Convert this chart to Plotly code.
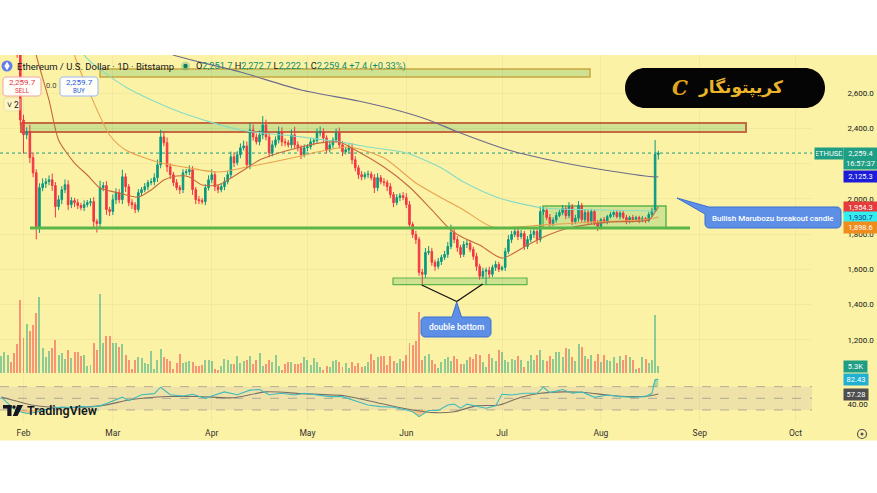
import pandas as pd
import plotly.graph_objects as go

W, H = 877, 493
FONT = "Roboto, Open Sans, sans-serif"

# ---------------- DATA ----------------
start_date = "2023-01-25"
first_open = 2960
closes = [
    2990, 3025, 3050, 2995, 2950, 2830,
    2447, 2363, 2380, 2233, 2148, 1837, 2063, 2086, 2097, 2108, 2075, 1956, 1995, 2052, 2080, 1967, 1990, 1978, 1962, 1950,
    1967, 1978, 1984, 1871, 1860, 2063, 2075, 1939, 1928, 1995, 2035, 1995, 2125, 2069, 1978, 1967, 1939, 2035, 2052, 2069,
    2092, 2097, 2120, 2193, 2351, 2318, 2182, 2137, 2092, 2063, 2052, 2148, 2154, 2165, 2052, 1995, 1990, 1984, 2063, 2108,
    2137, 2069, 2052, 2069, 2097, 2137, 2238, 2205, 2250, 2289, 2300, 2193, 2391, 2350, 2323, 2363, 2419, 2351, 2261, 2306,
    2334, 2380, 2323, 2318, 2306, 2363, 2306, 2289, 2250, 2289, 2295, 2323, 2330, 2374, 2380, 2345, 2278, 2306, 2334, 2374,
    2306, 2267, 2278, 2289, 2221, 2176, 2137, 2125, 2137, 2140, 2120, 2063, 2120, 2097, 2092, 2069, 2024, 1978, 2007, 2018,
    2007, 1967, 1854, 1798, 1769, 1583, 1572, 1696, 1702, 1640, 1617, 1645, 1668, 1685, 1730, 1809, 1769, 1724, 1685, 1741,
    1747, 1713, 1674, 1617, 1561, 1589, 1595, 1572, 1611, 1628, 1600, 1611, 1702, 1769, 1798, 1815, 1786, 1803, 1730, 1769,
    1798, 1815, 1769, 1928, 1935, 1894, 1860, 1880, 1905, 1922, 1945, 1905, 1956, 1871, 1890, 1962, 1882, 1922, 1871, 1928,
    1865, 1843, 1882, 1871, 1899, 1911, 1922, 1899, 1920, 1894, 1871, 1894, 1882, 1894, 1877, 1888, 1877, 1911, 1935, 2251.7, 2259.4,
]
up_wick = [
    20, 25, 20, 30, 25, 20,
    20, 30, 25, 40, 30, 20, 25, 30, 20, 25, 35, 20, 25, 20, 30, 25, 20, 15, 20, 15,
    25, 15, 20, 25, 15, 40, 20, 25, 15, 30, 25, 20, 40, 20, 15, 20, 15, 20, 15, 20,
    15, 20, 25, 30, 40, 25, 30, 20, 15, 20, 15, 20, 15, 25, 20, 15, 20, 15, 20, 25,
    30, 20, 15, 20, 25, 20, 30, 25, 20, 25, 30, 25, 40, 30, 20, 25, 50, 30, 20, 25,
    20, 30, 25, 20, 15, 30, 45, 20, 15, 20, 15, 20, 15, 25, 30, 20, 15, 20, 15, 25,
    30, 20, 15, 20, 25, 20, 15, 20, 15, 20, 15, 20, 25, 15, 20, 15, 20, 15, 20, 15,
    20, 25, 20, 15, 20, 15, 20, 25, 30, 20, 15, 20, 15, 20, 25, 45, 25, 20, 15, 20,
    25, 20, 15, 20, 15, 20, 15, 20, 15, 20, 15, 10, 20, 25, 20, 25, 15, 20, 15, 20,
    25, 20, 15, 30, 20, 15, 20, 15, 20, 15, 20, 15, 25, 15, 20, 25, 15, 20, 15, 15,
    10, 15, 10, 15, 10, 15, 10, 15, 10, 10, 15, 10, 15, 10, 10, 15, 10, 15, 15, 82, 13.3,
]
dn_wick = [
    25, 20, 30, 20, 25, 30,
    30, 107, 25, 30, 25, 67, 30, 20, 25, 20, 30, 62, 20, 25, 20, 30, 20, 25, 20, 15,
    20, 15, 20, 30, 51, 25, 20, 30, 25, 20, 25, 20, 25, 30, 20, 25, 20, 15, 20, 15,
    20, 15, 20, 25, 20, 20, 30, 25, 20, 15, 25, 20, 15, 20, 30, 25, 20, 15, 20, 15,
    20, 25, 20, 15, 20, 15, 20, 25, 15, 20, 15, 20, 25, 20, 15, 20, 25, 20, 25, 20,
    15, 20, 25, 20, 15, 20, 25, 20, 25, 15, 20, 15, 20, 15, 20, 25, 20, 15, 20, 15,
    20, 25, 15, 20, 25, 20, 25, 20, 15, 20, 15, 30, 20, 15, 20, 25, 20, 25, 15, 20,
    15, 20, 25, 20, 25, 20, 57, 20, 15, 20, 25, 15, 20, 15, 20, 15, 20, 25, 20, 15,
    20, 15, 20, 25, 20, 15, 74, 20, 15, 20, 15, 10, 20, 15, 20, 15, 20, 15, 20, 15,
    15, 20, 25, 15, 20, 15, 20, 15, 15, 10, 15, 20, 15, 20, 15, 20, 15, 20, 15, 15,
    15, 25, 15, 10, 15, 10, 15, 10, 15, 10, 15, 10, 15, 10, 15, 10, 15, 10, 15, 10, 29.6,
]
volume_k = [
    12.9, 16.0, 13.7, 8.4, 15.2, 22.0,
    55.5, 26.6, 37.2, 31.9, 36.5, 45.6, 57.8, 19.0, 12.2, 16.7, 19.0, 25.1, 13.7, 15.2, 10.6, 17.5, 11.4, 16.0, 16.0, 12.9,
    13.7, 5.3, 6.1, 22.8, 17.5, 60.0, 22.8, 28.1, 28.1, 22.8, 22.8, 19.8, 22.0, 13.7, 9.9, 3.0, 9.9, 12.2, 11.4, 7.6,
    6.8, 16.7, 3.0, 9.9, 18.2, 12.2, 10.6, 9.1, 3.0, 7.6, 14.4, 7.6, 8.4, 9.1, 8.4, 5.3, 5.3, 6.1, 9.9, 9.9,
    9.1, 3.0, 2.3, 5.3, 10.6, 9.9, 6.8, 6.8, 12.9, 7.6, 9.1, 9.9, 12.9, 6.8, 9.9, 15.2, 5.3, 6.8, 9.9, 8.4,
    13.7, 5.3, 2.3, 6.8, 8.4, 8.4, 6.8, 6.8, 7.6, 12.2, 10.1, 6.3, 11.4, 8.1, 4.6, 2.5, 5.6, 4.6, 8.9, 10.1,
    8.1, 4.6, 7.6, 3.8, 8.1, 5.6, 7.6, 4.6, 5.6, 8.1, 14.7, 10.1, 12.2, 13.2, 12.7, 6.3, 13.2, 9.0, 7.5, 11.0,
    9.5, 14.0, 22.8, 21.5, 24.1, 46.1, 10.1, 13.2, 14.7, 10.1, 7.1, 3.8, 8.1, 10.6, 12.2, 8.9, 12.7, 10.6, 7.1, 7.1,
    10.1, 12.2, 10.6, 14.7, 13.9, 8.1, 4.6, 14.7, 11.4, 8.9, 17.2, 15.7, 10.1, 8.1, 10.6, 9.6, 12.7, 9.6, 4.6, 8.9,
    13.9, 10.1, 13.9, 17.2, 10.1, 8.9, 13.2, 10.6, 15.7, 15.7, 12.2, 19.0, 18.2, 12.2, 8.9, 22.3, 19.8, 12.7, 10.6, 13.9,
    8.9, 14.7, 8.1, 13.9, 10.1, 8.9, 12.2, 7.6, 12.7, 9.6, 13.9, 12.2, 10.1, 3.0, 3.8, 12.2, 10.6, 7.6, 9.6, 44.3, 5.3,
]

# moving averages (index into the candle dates, value)
ma20_idx = [10, 11, 15, 18, 23, 27, 31, 37, 43, 47, 51, 55, 59, 63, 68, 72, 77, 81, 87, 94,
            100, 106, 111, 120, 128, 135, 141, 145, 150, 157, 165, 170, 178, 191, 203, 205, 206]
ma20_val = [2929, 2815, 2560, 2334, 2203, 2135, 2061, 2033, 2010, 2050, 2107, 2129, 2124, 2078, 2078, 2118, 2175, 2220, 2260, 2294,
            2317, 2322, 2277, 2180, 2067, 1937, 1823, 1778, 1738, 1664, 1738, 1784, 1835, 1869, 1880, 1925, 1954.3]
ma50_idx = [22, 23, 28, 34, 39, 49, 59, 68, 77, 94, 99, 109, 120, 130, 141, 145, 154, 170, 186, 200, 205, 206]
ma50_val = [2929, 2815, 2589, 2362, 2277, 2209, 2175, 2152, 2180, 2243, 2265, 2294, 2231, 2090, 1976, 1937, 1840, 1852, 1869, 1880, 1891, 1898.6]
ma100_idx = [24, 26, 39, 56, 75, 94, 108, 115, 127, 138, 145, 156, 170, 188, 205, 206]
ma100_val = [2929, 2815, 2634, 2492, 2390, 2351, 2317, 2294, 2260, 2175, 2095, 2005, 1948, 1937, 1931, 1930.7]
ma200_idx = [47, 54, 75, 94, 112, 125, 134, 144, 159, 175, 191, 205, 206]
ma200_val = [2872, 2815, 2719, 2617, 2555, 2498, 2447, 2373, 2277, 2209, 2158, 2124, 2125.3]

rsi_idx = [0, 2, 4, 6, 8, 11, 13, 16, 19, 22, 25, 28, 31, 33, 38, 40, 44, 48, 50, 53, 57, 60, 64, 66, 70,
           74, 78, 81, 84, 88, 92, 95, 99, 103, 107, 111, 115, 119, 123, 127, 129, 131, 132, 134, 137, 140, 142,
           144, 146, 149, 152, 155, 157, 160, 164, 168, 170, 172, 176, 179, 182, 186, 190, 194, 198, 202, 204, 205, 206]
rsi_val = [52, 42, 32, 27, 24, 26, 30, 33, 35, 34, 36, 35, 37, 41, 52, 46, 56, 58, 69, 56, 54, 57, 50, 54, 61,
           56, 64, 65, 56, 58.6, 55.7, 58.6, 55.7, 52.9, 52.9, 46, 38.6, 35.7, 34.6, 30, 27, 18.6, 22, 29, 29, 38.6, 40,
           33, 40, 36, 33, 37, 57, 55.7, 58.6, 58.6, 69, 59.7, 65, 58.6, 61, 51.7, 55.7, 52.9, 51.7, 52.9, 58.6, 82, 82.43]
rsi_ma_idx = [0, 5, 10, 21, 31, 41, 52, 62, 73, 83, 94, 108, 119, 129, 136, 142, 149, 156, 163, 169, 176, 183, 190, 197, 203, 206]
rsi_ma_val = [52, 45, 38, 34, 37, 48, 53, 53, 51, 61, 58, 54, 41, 30, 25.4, 27, 37, 38.6, 51.7, 58.6, 61, 60, 55.7, 52.9, 54, 57.28]

month_ticks = ["2023-02-01", "2023-03-01", "2023-04-01", "2023-05-01", "2023-06-01",
               "2023-07-01", "2023-08-01", "2023-09-01", "2023-10-01"]
month_labels = ["Feb", "Mar", "Apr", "May", "Jun", "Jul", "Aug", "Sep", "Oct"]
price_ticks = [1200, 1400, 1600, 1800, 2000, 2200, 2400, 2600]
rsi_ticks = [40]
rsi_levels = [70, 50, 30]

# drawing levels (price)
resist_zone = [2379, 2430]
top_zone = [2691, 2736]
box_zone = [1834, 1959]
bottom_zone = [1514, 1551]
support_level = 1834.5

# ---------------- BUILD ----------------
dates = pd.date_range(start_date, periods=len(closes), freq="D")
assert len(up_wick) == len(closes) == len(dn_wick) == len(volume_k)
opens = [first_open] + closes[:-1]
highs = [max(o, c) + u for o, c, u in zip(opens, closes, up_wick)]
lows = [min(o, c) - d for o, c, d in zip(opens, closes, dn_wick)]

GREEN, RED = "#089981", "#f23645"
vol_colors = ["rgba(8,153,129,0.45)" if c >= o else "rgba(242,54,69,0.5)" for o, c in zip(opens, closes)]

# pixel layout helpers
FEB1 = pd.Timestamp("2023-02-01")
PXD, FEB1_X = 3.19, 23.5
PLOT_R = 812


def xd(X):
    return FEB1 + pd.Timedelta(days=(X - FEB1_X) / PXD)


def yp(Y):
    return 2600 - (Y - 93) * 5.67


def fx(X):
    return X / W


def fy(Y):
    return 1 - Y / H


def P(x, y):
    return f"{fx(x):.5f},{fy(y):.5f}"


def rr_path(x0, y0, x1, y1, r):
    k = 0.5523 * r
    return (f"M {P(x0 + r, y0)} L {P(x1 - r, y0)} C {P(x1 - r + k, y0)} {P(x1, y0 + r - k)} {P(x1, y0 + r)} "
            f"L {P(x1, y1 - r)} C {P(x1, y1 - r + k)} {P(x1 - r + k, y1)} {P(x1 - r, y1)} "
            f"L {P(x0 + r, y1)} C {P(x0 + r - k, y1)} {P(x0, y1 - r + k)} {P(x0, y1 - r)} "
            f"L {P(x0, y0 + r)} C {P(x0, y0 + r - k)} {P(x0 + r - k, y0)} {P(x0 + r, y0)} Z")


fig = go.Figure()

fig.add_trace(go.Bar(x=dates, y=volume_k, marker=dict(color=vol_colors, line=dict(width=0)),
                     width=0.62 * 86400000, yaxis="y2", hoverinfo="skip"))
fig.add_trace(go.Candlestick(x=dates, open=opens, high=highs, low=lows, close=closes,
                             increasing=dict(line=dict(color=GREEN, width=1), fillcolor=GREEN),
                             decreasing=dict(line=dict(color=RED, width=1), fillcolor=RED),
                             whiskerwidth=0, hoverinfo="skip", yaxis="y"))

for idx, val, col in [(ma200_idx, ma200_val, "#6c6b8c"), (ma100_idx, ma100_val, "#86dcc4"),
                      (ma50_idx, ma50_val, "#e9a24f"), (ma20_idx, ma20_val, "#c46a3e")]:
    fig.add_trace(go.Scatter(x=dates[idx], y=val, mode="lines", yaxis="y", hoverinfo="skip",
                             line=dict(color=col, width=1.1, shape="spline", smoothing=0.7)))

# RSI pane
rx = dates[rsi_idx]
fig.add_trace(go.Scatter(x=rx, y=[30] * len(rx), mode="lines", line=dict(width=0), yaxis="y3", hoverinfo="skip"))
fig.add_trace(go.Scatter(x=rx, y=[min(v, 30) for v in rsi_val], mode="lines", line=dict(width=0),
                         fill="tonexty", fillcolor="rgba(242,110,60,0.35)", yaxis="y3", hoverinfo="skip"))
fig.add_trace(go.Scatter(x=rx, y=[70] * len(rx), mode="lines", line=dict(width=0), yaxis="y3", hoverinfo="skip"))
fig.add_trace(go.Scatter(x=rx, y=[max(v, 70) for v in rsi_val], mode="lines", line=dict(width=0),
                         fill="tonexty", fillcolor="rgba(8,153,129,0.3)", yaxis="y3", hoverinfo="skip"))
fig.add_trace(go.Scatter(x=dates[rsi_ma_idx], y=rsi_ma_val, mode="lines", yaxis="y3", hoverinfo="skip",
                         line=dict(color="#7a6f66", width=1.1, shape="spline", smoothing=0.8)))
fig.add_trace(go.Scatter(x=rx, y=rsi_val, mode="lines", yaxis="y3", hoverinfo="skip",
                         line=dict(color="#3dbdbd", width=1.1)))

shapes = []
ann = []
YELLOW = "#fcf2a5"


def txt(X, Y, s, size, color="#131722", family=FONT, xanchor="center", yanchor="middle", **kw):
    ann.append(dict(x=fx(X), y=fy(Y), xref="paper", yref="paper", text=s, showarrow=False,
                    xanchor=xanchor, yanchor=yanchor, font=dict(size=size, color=color, family=family, **kw)))


# background
shapes.append(dict(type="rect", xref="paper", yref="paper", x0=0, x1=1, y0=fy(440.5), y1=fy(55),
                   fillcolor=YELLOW, line=dict(width=0), layer="below"))

# rsi band & levels
shapes.append(dict(type="rect", xref="paper", yref="y3", x0=0, x1=fx(PLOT_R), y0=rsi_levels[2], y1=rsi_levels[0],
                   fillcolor="rgba(126,87,194,0.10)", line=dict(width=0), layer="below"))
for lv in rsi_levels:
    shapes.append(dict(type="line", xref="paper", yref="y3", x0=0, x1=fx(PLOT_R), y0=lv, y1=lv,
                       line=dict(color="rgba(120,123,134,0.55)", width=1, dash="dash"), layer="below"))

# zones
ZFILL = "rgba(168,214,130,0.55)"
shapes.append(dict(type="rect", xref="x", yref="y", x0=xd(21), x1=xd(746), y0=resist_zone[0], y1=resist_zone[1],
                   fillcolor=ZFILL, line=dict(color="#c36a40", width=2), layer="below"))
shapes.append(dict(type="rect", xref="x", yref="y", x0=xd(100), x1=xd(590), y0=top_zone[0], y1=top_zone[1],
                   fillcolor=ZFILL, line=dict(color="#c9a640", width=1.5), layer="below"))
shapes.append(dict(type="rect", xref="x", yref="y", x0=xd(543), x1=xd(666), y0=box_zone[0], y1=box_zone[1],
                   fillcolor="rgba(168,214,130,0.5)", line=dict(color="#5cb548", width=1.5), layer="below"))
shapes.append(dict(type="rect", xref="x", yref="y", x0=xd(393), x1=xd(527), y0=bottom_zone[0], y1=bottom_zone[1],
                   fillcolor=ZFILL, line=dict(color="#5cb548", width=1.2), layer="below"))
shapes.append(dict(type="line", xref="x", yref="y", x0=xd(30), x1=xd(690), y0=support_level, y1=support_level,
                   line=dict(color="#5cb548", width=3.2), layer="above"))

# current price dotted line
shapes.append(dict(type="line", xref="paper", yref="y", x0=0, x1=fx(PLOT_R), y0=closes[-1], y1=closes[-1],
                   line=dict(color="#1e9e85", width=1, dash="dot"), layer="below"))

# double bottom pointer lines
shapes.append(dict(type="line", xref="x", yref="y", x0=xd(421.7), y0=yp(285), x1=xd(456.7), y1=yp(301.5),
                   line=dict(color="#111111", width=1.3)))
shapes.append(dict(type="line", xref="x", yref="y", x0=xd(456.7), y0=yp(301.5), x1=xd(482.7), y1=yp(284),
                   line=dict(color="#111111", width=1.3)))

# callouts
CALL_FILL, CALL_LINE = "#5d8fe6", "#3c6fd0"
k = 0.5523 * 4
bull = (f"M {P(709, 207)} L {P(837, 207)} C {P(837 + k, 207)} {P(841, 211 - k)} {P(841, 211)} "
        f"L {P(841, 224)} C {P(841, 224 + k)} {P(837 + k, 228)} {P(837, 228)} "
        f"L {P(709, 228)} C {P(709 - k, 228)} {P(705, 224 + k)} {P(705, 224)} "
        f"L {P(705, 214)} L {P(677, 198)} Z")
shapes.append(dict(type="path", xref="paper", yref="paper", path=bull, fillcolor=CALL_FILL,
                   line=dict(color=CALL_LINE, width=1)))
db = (f"M {P(425, 317)} L {P(452, 317)} L {P(456.7, 302)} L {P(461.5, 317)} L {P(487, 317)} "
      f"C {P(487 + k, 317)} {P(491, 321 - k)} {P(491, 321)} L {P(491, 333)} "
      f"C {P(491, 333 + k)} {P(487 + k, 337)} {P(487, 337)} L {P(425, 337)} "
      f"C {P(425 - k, 337)} {P(421, 333 + k)} {P(421, 333)} L {P(421, 321)} "
      f"C {P(421, 321 - k)} {P(425 - k, 317)} {P(425, 317)} Z")
shapes.append(dict(type="path", xref="paper", yref="paper", path=db, fillcolor=CALL_FILL,
                   line=dict(color=CALL_LINE, width=1)))
txt(773, 218, "Bullish Marubozu breakout candle", 8, "white", weight=500)
txt(456, 327, "double bottom", 8.5, "white", weight=500)

# logo pill
shapes.append(dict(type="path", xref="paper", yref="paper", path=rr_path(625, 68, 825, 108, 20),
                   fillcolor="#050505", line=dict(width=0)))
txt(740, 87, "<b>کریپتونگار</b>", 17, "#eab52a", family="DejaVu Sans")
txt(680, 88, "<b><i>C</i></b>", 20, "#e2a61c", family="DejaVu Serif")

# legend row
shapes.append(dict(type="circle", xref="paper", yref="paper", x0=fx(1.5), x1=fx(12.5), y0=fy(71.5), y1=fy(60.5),
                   fillcolor="#627eea", line=dict(width=0)))
shapes.append(dict(type="path", xref="paper", yref="paper",
                   path=f"M {P(7, 61.8)} L {P(9.6, 66)} L {P(7, 70.2)} L {P(4.4, 66)} Z",
                   fillcolor="white", line=dict(width=0)))
txt(15, 66, "Ethereum / U.S. Dollar · 1D · Bitstamp", 9.5, xanchor="left")
shapes.append(dict(type="circle", xref="paper", yref="paper", x0=fx(181), x1=fx(190), y0=fy(70.5), y1=fy(61.5),
                   fillcolor="rgba(8,153,129,0.25)", line=dict(width=0)))
shapes.append(dict(type="circle", xref="paper", yref="paper", x0=fx(183.3), x1=fx(187.7), y0=fy(68.2), y1=fy(63.8),
                   fillcolor="#0a7d5e", line=dict(width=0)))
G = "#0b8f6f"
ohlc = (f"O<span style='color:{G}'>2,251.7</span> H<span style='color:{G}'>2,272.7</span> "
        f"L<span style='color:{G}'>2,222.1</span> C<span style='color:{G}'>2,259.4</span> "
        f"<span style='color:{G}'>+7.4 (+0.33%)</span>")
txt(194, 66, ohlc, 9.2, xanchor="left")

# sell / buy
shapes.append(dict(type="path", xref="paper", yref="paper", path=rr_path(3, 77, 41, 96, 3),
                   fillcolor="rgba(255,255,255,0.92)", line=dict(color="#f4a3ab", width=1)))
shapes.append(dict(type="path", xref="paper", yref="paper", path=rr_path(60, 77, 98, 96, 3),
                   fillcolor="rgba(255,255,255,0.92)", line=dict(color="#9db8f5", width=1)))
for cx, col, lab in [(22, "#e23a47", "SELL"), (79, "#2a5bd8", "BUY")]:
    txt(cx, 83, "2,259.7", 8, col)
    txt(cx, 91.3, lab, 6.3, col)
txt(50.5, 86, "0.0", 7.5, "#444")
shapes.append(dict(type="path", xref="paper", yref="paper", path=rr_path(4, 98, 21, 111, 2),
                   fillcolor="rgba(255,255,255,0.35)", line=dict(color="rgba(0,0,0,0.08)", width=1)))
txt(12.5, 104.5, "˅ 2", 8.5)

# TradingView watermark
for x0, y0, x1, y1 in [(3, 405, 11.5, 408.6), (7.3, 405, 11.5, 416)]:
    shapes.append(dict(type="rect", xref="paper", yref="paper", x0=fx(x0), x1=fx(x1), y0=fy(y1), y1=fy(y0),
                       fillcolor="#131722", line=dict(width=0)))
shapes.append(dict(type="circle", xref="paper", yref="paper", x0=fx(12.3), x1=fx(15.7), y0=fy(408.7), y1=fy(405.3),
                   fillcolor="#131722", line=dict(width=0)))
shapes.append(dict(type="path", xref="paper", yref="paper",
                   path=f"M {P(17.2, 405)} L {P(23, 405)} L {P(17.5, 416)} L {P(12.8, 416)} Z",
                   fillcolor="#131722", line=dict(width=0)))
txt(24.5, 410.5, "TradingView", 12.5, xanchor="left", weight=600)

# gear icon
shapes.append(dict(type="circle", xref="paper", yref="paper", x0=fx(857.5), x1=fx(866.5), y0=fy(438.5), y1=fy(429.5),
                   fillcolor="rgba(0,0,0,0)", line=dict(color="#555", width=1.2)))
shapes.append(dict(type="circle", xref="paper", yref="paper", x0=fx(860.5), x1=fx(863.5), y0=fy(435.5), y1=fy(432.5),
                   fillcolor="#555", line=dict(width=0)))


# right-hand tags
def tag(text, y, yref, bg, fc="white", cx=860.5, w=31, h=9, yanchor="middle", yshift=0):
    ann.append(dict(x=fx(cx), xref="paper", y=y, yref=yref, text=text, showarrow=False, bgcolor=bg,
                    font=dict(size=7.5, color=fc, family=FONT), width=w, height=h, borderpad=1,
                    xanchor="center", yanchor=yanchor, yshift=yshift))


tag("ETHUSD", closes[-1], "y", "#1e9e85", cx=829, w=26)
tag(f"{closes[-1]:,.1f}<br>16:57:37", closes[-1], "y", "#1e9e85", h=19, yanchor="top", yshift=6)
tag(f"{ma200_val[-1]:,.1f}", ma200_val[-1], "y", "#1c1cd9")
tag(f"{ma20_val[-1]:,.1f}", ma20_val[-1], "y", "#e53b3b", yshift=-0.5)
tag(f"{ma100_val[-1]:,.1f}", ma100_val[-1], "y", "#33eeee", fc="#1a3a8a", yshift=-6)
tag(f"{ma50_val[-1]:,.1f}", ma50_val[-1], "y", "#f08c1c", yshift=-10.8)
tag(f"{volume_k[-1]:.1f}K", volume_k[-1], "y2", "#1e9e85", cx=855.5, w=21)
tag(f"{rsi_val[-1]:.2f}", rsi_val[-1], "y3", "#22b0d2", cx=856, w=22)
tag(f"{rsi_ma_val[-1]:.2f}", rsi_ma_val[-1], "y3", "#4e4e4e", cx=856, w=22)

grid = "rgba(42,46,57,0.045)"
fig.update_layout(
    width=W, height=H, margin=dict(l=0, r=0, t=0, b=0),
    paper_bgcolor="white", plot_bgcolor="rgba(0,0,0,0)",
    font=dict(family=FONT, color="#131722"),
    showlegend=False, bargap=0,
    xaxis=dict(domain=[0, fx(PLOT_R)], type="date", anchor="y3",
               range=[xd(0), xd(PLOT_R)], tickvals=month_ticks, ticktext=month_labels,
               tickfont=dict(size=8.5, color="#333"), ticks="outside", ticklen=3, tickcolor="rgba(0,0,0,0)",
               showgrid=True, gridcolor=grid, zeroline=False, showline=False, rangeslider=dict(visible=False)),
    yaxis=dict(domain=[fy(378), fy(55)], range=[yp(378), yp(55)], side="right", anchor="x",
               tickvals=price_ticks, ticktext=[f"{v:,.1f}" for v in price_ticks],
               tickfont=dict(size=8, color="#131722"), ticks="outside", ticklen=33, tickcolor="rgba(0,0,0,0)",
               showgrid=True, gridcolor=grid, zeroline=False, showline=False),
    yaxis2=dict(overlaying="y", range=[-5 * 0.76, (373 - 55) * 0.76], visible=False),
    yaxis3=dict(domain=[fy(422), fy(378)], range=[50 - (422 - 398.3) / 0.583, 50 + (398.3 - 378) / 0.583],
                side="right", anchor="x", tickvals=rsi_ticks, ticktext=[f"{v:.2f}" for v in rsi_ticks],
                tickfont=dict(size=8, color="#131722"), ticks="outside", ticklen=33, tickcolor="rgba(0,0,0,0)",
                showgrid=False, zeroline=False, showline=False),
    shapes=shapes, annotations=ann,
)

fig.write_html("out.html", config={"displayModeBar": False},
               post_script="document.body.style.margin='0px';document.body.style.padding='0px';")
